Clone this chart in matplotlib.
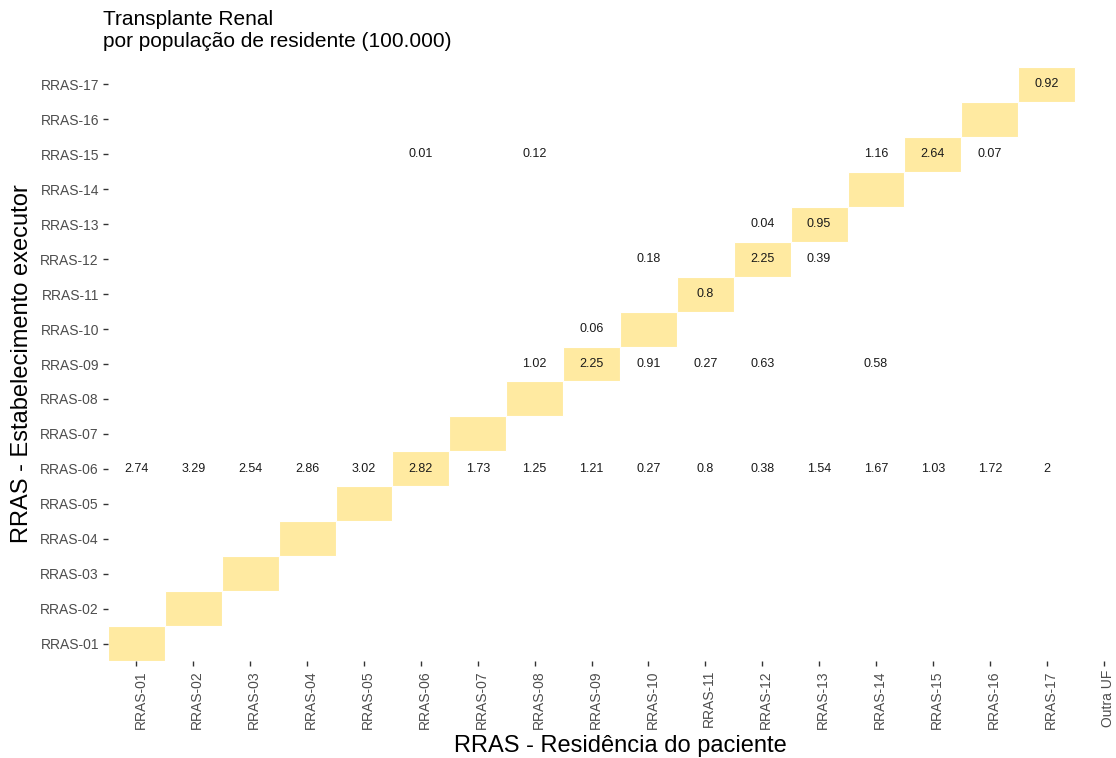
import matplotlib
matplotlib.use("Agg")
import matplotlib.pyplot as plt
import matplotlib.transforms as mtransforms
from matplotlib.patches import Rectangle

plt.rcParams['font.family'] = ['Liberation Sans', 'DejaVu Sans']

# Residence regions (columns) and executing regions (rows)
residencia = [f"RRAS-{i:02d}" for i in range(1, 18)] + ["Outra UF"]
executor = [f"RRAS-{i:02d}" for i in range(1, 18)]

# Transplant rate per 100,000 residents: (executor, residence, value)
taxa_executor = ["RRAS-06"] * 17 + \
    ["RRAS-09"] * 6 + ["RRAS-10"] + ["RRAS-11"] + ["RRAS-12"] * 3 + \
    ["RRAS-13"] * 2 + ["RRAS-15"] * 5 + ["RRAS-17"]
taxa_residencia = [f"RRAS-{i:02d}" for i in range(1, 18)] + \
    ["RRAS-08", "RRAS-09", "RRAS-10", "RRAS-11", "RRAS-12", "RRAS-14"] + \
    ["RRAS-09"] + ["RRAS-11"] + ["RRAS-10", "RRAS-12", "RRAS-13"] + \
    ["RRAS-12", "RRAS-13"] + \
    ["RRAS-06", "RRAS-08", "RRAS-14", "RRAS-15", "RRAS-16"] + ["RRAS-17"]
taxa_valor = [2.74, 3.29, 2.54, 2.86, 3.02, 2.82, 1.73, 1.25, 1.21, 0.27,
              0.8, 0.38, 1.54, 1.67, 1.03, 1.72, 2,
              1.02, 2.25, 0.91, 0.27, 0.63, 0.58,
              0.06,
              0.8,
              0.18, 2.25, 0.39,
              0.04, 0.95,
              0.01, 0.12, 1.16, 2.64, 0.07,
              0.92]

W, H = 1116, 758
fig = plt.figure(figsize=(W / 100, H / 100), dpi=100)
# panel spans beyond the right edge of the canvas
left, right, top, bottom = 108, 1132, 67, 661
ax = fig.add_axes([left / W, (H - bottom) / H, (right - left) / W, (bottom - top) / H])
ax.set_xlim(-0.5, len(residencia) - 0.5)
ax.set_ylim(-0.5, len(executor) - 0.5)
for s in ax.spines.values():
    s.set_visible(False)

xpos = {r: i for i, r in enumerate(residencia)}
ypos = {r: i for i, r in enumerate(executor)}

# own-region tiles on the diagonal
for r in executor:
    ax.add_patch(Rectangle((xpos[r] - 0.5, ypos[r] - 0.5), 1, 1,
                           facecolor="#FFEAA1", edgecolor="white", linewidth=0.8))

for e, r, v in zip(taxa_executor, taxa_residencia, taxa_valor):
    ax.text(xpos[r], ypos[e], f"{v:g}", ha="center", va="center",
            fontsize=9, color="#1a1a1a")

ax.set_xticks(range(len(residencia)))
ax.set_xticklabels(residencia, rotation=90, va="top", ha="center")
ax.set_yticks(range(len(executor)))
ax.set_yticklabels(executor)
ax.tick_params(axis="both", length=3.5, width=1.0, color="#333333",
               labelcolor="#4D4D4D", labelsize=10, pad=3)
offset = mtransforms.ScaledTranslation(4 / 100, 0, fig.dpi_scale_trans)
for lbl in ax.get_xticklabels():
    lbl.set_transform(lbl.get_transform() + offset)

fig.text(620 / W, (H - 746) / H, "RRAS - Residência do paciente",
         ha="center", va="center", fontsize=17, color="black")
fig.text(22 / W, (H - 364) / H, "RRAS - Estabelecimento executor",
         ha="center", va="center", rotation=90, fontsize=17, color="black")
fig.text(103 / W, (H - 10) / H, "Transplante Renal\npor população de residente (100.000)",
         ha="left", va="top", fontsize=15, color="black", linespacing=1.2)

fig.savefig("out.png", dpi=100, facecolor="white")
